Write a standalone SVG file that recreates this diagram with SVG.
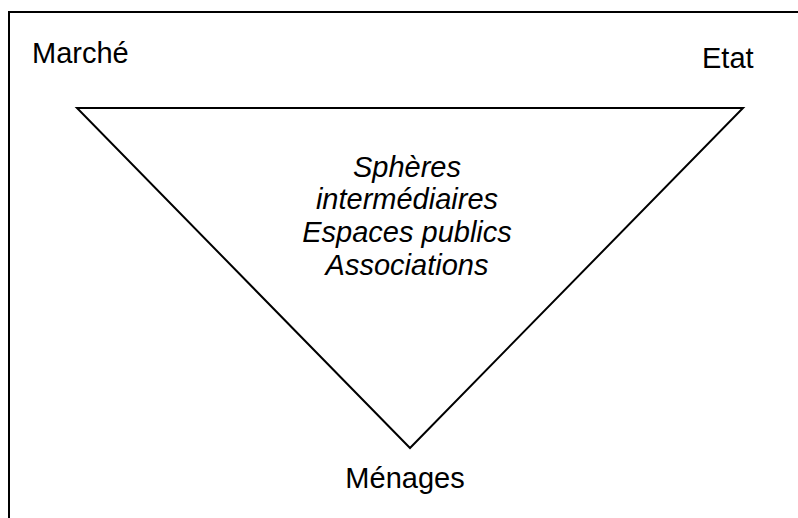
<svg xmlns="http://www.w3.org/2000/svg" width="798" height="518" viewBox="0 0 798 518">
<style>
.lbl{font-family:"Liberation Sans",Arial,sans-serif;font-size:29px;fill:#000}
.it{font-style:italic;text-anchor:middle}
.ln{fill:none;stroke:#000}
</style>
<rect width="798" height="518" fill="#fff"/>
<path id="frame" class="ln" stroke-width="2" d="M9,530 V12 H810"/>
<g id="triangle">
<polygon class="ln" stroke-width="2" stroke-linejoin="miter" points="77,108 743,108 410,448"/>
</g>
<g id="marche"><text class="lbl" x="32" y="63">Marché</text></g>
<g id="etat"><text class="lbl" x="702" y="68">Etat</text></g>
<g id="menages"><text class="lbl" x="405" y="488" text-anchor="middle">Ménages</text></g>
<g id="centre">
<text class="lbl it" x="407" y="176.5">Sphères</text>
<text class="lbl it" x="407" y="209.3">intermédiaires</text>
<text class="lbl it" x="407" y="242">Espaces publics</text>
<text class="lbl it" x="407" y="274.7">Associations</text>
</g>
</svg>
